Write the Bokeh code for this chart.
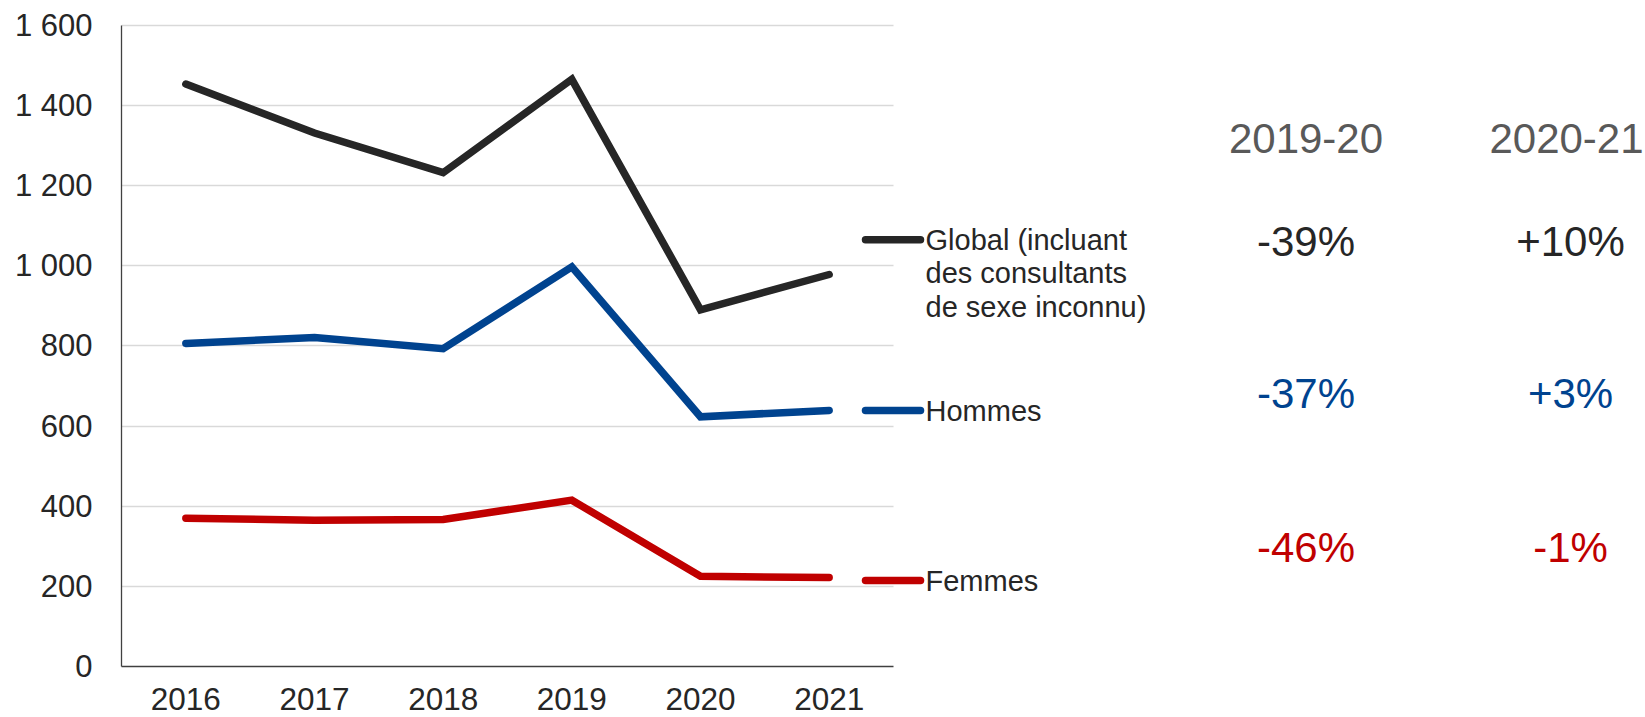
from bokeh.plotting import figure
from bokeh.models import Range1d, FixedTicker, Grid
from bokeh.core.properties import value
from bokeh.embed import file_html
from bokeh.resources import INLINE

# ---------------- data ----------------
years = ["2016", "2017", "2018", "2019", "2020", "2021"]
global_vals = [1453, 1331, 1232, 1465, 890, 978]
hommes_vals = [806, 821, 793, 997, 623, 639]
femmes_vals = [370, 365, 367, 415, 225, 222]
series_labels = [["Global (incluant", "des consultants", "de sexe inconnu)"], ["Hommes"], ["Femmes"]]
periods = ["2019-20", "2020-21"]
global_change = [-39, 10]
hommes_change = [-37, 3]
femmes_change = [-46, -1]
y_ticks = [0, 200, 400, 600, 800, 1000, 1200, 1400, 1600]
y_tick_labels = ["0", "200", "400", "600", "800", "1 000", "1 200", "1 400", "1 600"]

# ---------------- layout / style ----------------
FONT = "Liberation Sans"
C_BLACK = "#262626"
C_BLUE = "#00438F"
C_RED = "#C00000"
C_GRID = "#D9D9D9"
C_HEAD = "#595959"
FIG_W, FIG_H = 1645, 717
FRAME_L, CHART_W = 121, 772
BORDER_T, BORDER_B = 23, 51
PX_PER_UNIT = 641.3 / 1600.0
n = len(years)
unit_px = CHART_W / n
x_end = n * (FIG_W - FRAME_L) / CHART_W
y_end = (FIG_H - BORDER_T - BORDER_B) / PX_PER_UNIT


def xd(px):  # canvas pixel -> data x
    return (px - FRAME_L) / unit_px


def yd(py):  # canvas pixel -> data y
    return (FIG_H - BORDER_B - py) / PX_PER_UNIT


p = figure(width=FIG_W, height=FIG_H, output_backend="svg", toolbar_location=None,
           x_range=Range1d(0, x_end), y_range=Range1d(0, y_end),
           min_border_left=FRAME_L, min_border_right=0,
           min_border_top=BORDER_T, min_border_bottom=BORDER_B)
p.outline_line_color = None
p.background_fill_color = "white"
p.border_fill_color = "white"

# grid
p.xgrid.visible = False
if "cross_bounds" in Grid.properties():
    p.ygrid.ticker = FixedTicker(ticks=y_ticks[1:])
    p.ygrid.cross_bounds = (0, n)
    p.ygrid.grid_line_color = C_GRID
    p.ygrid.grid_line_width = 1.5
else:
    p.ygrid.visible = False
    p.segment(x0=[0] * (len(y_ticks) - 1), x1=[n] * (len(y_ticks) - 1),
              y0=y_ticks[1:], y1=y_ticks[1:], line_color=C_GRID, line_width=1.5)

# axes
xpos = [i + 0.5 for i in range(n)]
p.xaxis.ticker = FixedTicker(ticks=xpos)
p.xaxis.major_label_overrides = {x: y for x, y in zip(xpos, years)}
p.xaxis.bounds = (0, n)
p.yaxis.ticker = FixedTicker(ticks=y_ticks)
p.yaxis.major_label_overrides = {t: l for t, l in zip(y_ticks, y_tick_labels)}
p.yaxis.bounds = (0, y_ticks[-1])
for ax in (p.xaxis[0], p.yaxis[0]):
    ax.axis_line_color = "#404040"
    ax.axis_line_width = 1.3
    ax.major_tick_line_color = None
    ax.minor_tick_line_color = None
    ax.major_tick_out = 0
    ax.major_tick_in = 0
    ax.major_label_text_font = FONT
    ax.major_label_text_color = C_BLACK
p.xaxis.major_label_text_font_size = "31.5px"
p.yaxis.major_label_text_font_size = "31px"
p.xaxis.major_label_standoff = 21
p.yaxis.major_label_standoff = 29

# series lines
series = [(global_vals, C_BLACK), (hommes_vals, C_BLUE), (femmes_vals, C_RED)]
for vals, col in series:
    p.line(xpos, vals, line_color=col, line_width=7.5, line_cap="round", line_join="miter")

# legend (drawn manually)
legend_py = [239.3, 410.0, 580.0]
line_gap = 33.5
for (vals, col), labels, py in zip(series, series_labels, legend_py):
    p.segment(x0=[xd(865)], x1=[xd(920)], y0=[yd(py)], y1=[yd(py)],
              line_color=col, line_width=7.5, line_cap="round")
    p.text(x=[xd(925)] * len(labels), y=[yd(py + k * line_gap) for k in range(len(labels))],
           text=labels, text_font=value(FONT), text_font_size="29px",
           text_color=C_BLACK, text_align="left", text_baseline="middle")

# right-hand table of changes
col_px = [1305.5, 1570.0]
head_px = [1305.5, 1566.0]
p.text(x=[xd(c) for c in head_px], y=[yd(137.5)] * len(periods), text=periods,
       text_font=value(FONT), text_font_size="42px", text_color=C_HEAD,
       text_align="center", text_baseline="middle")
row_py = [240.5, 393.3, 546.7]
for changes, col, py in zip([global_change, hommes_change, femmes_change],
                            [C_BLACK, C_BLUE, C_RED], row_py):
    p.text(x=[xd(c) for c in col_px], y=[yd(py)] * len(changes),
           text=[f"{v:+d}%" for v in changes],
           text_font=value(FONT), text_font_size="42px", text_color=col,
           text_align="center", text_baseline="middle")

open("out.html", "w").write(file_html(p, INLINE))
